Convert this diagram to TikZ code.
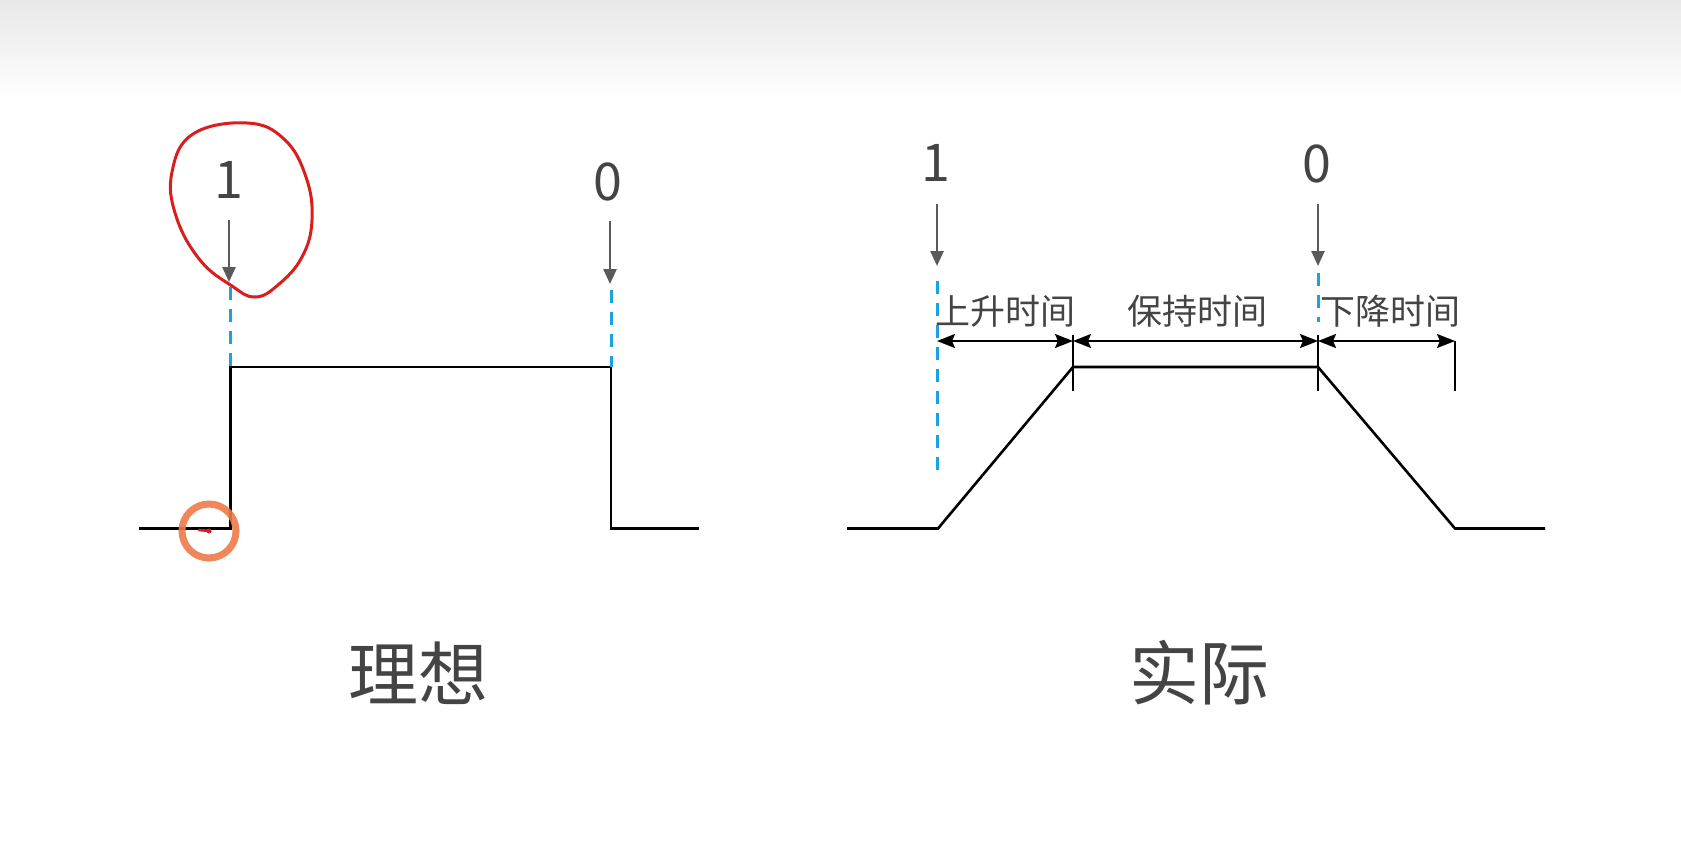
\documentclass[tikz,border=0pt]{standalone}
\usepackage{fontspec}
\setmainfont{Noto Sans CJK SC}
\usetikzlibrary{arrows.meta}
\definecolor{txt}{HTML}{444444}
\definecolor{ptrc}{HTML}{5A5A5A}
\definecolor{bluedash}{HTML}{1BA1E2}
\definecolor{penred}{HTML}{D91E1E}
\definecolor{penorange}{HTML}{EE7A4A}
\begin{document}
\begin{tikzpicture}[x=1pt,y=-1pt,
  sig/.style={line width=2.6pt, black, line join=miter},
  ptr/.style={draw=ptrc, line width=2.5pt, -{Triangle[length=15pt,width=13pt]}},
  bluedashed/.style={draw=bluedash, line width=3pt, dash pattern=on 13pt off 9pt},
  tickline/.style={draw=black, line width=2.2pt},
  dim/.style={draw=black, line width=2.2pt, {Stealth[length=18pt,width=14pt,inset=3pt]}-{Stealth[length=18pt,width=14pt,inset=3pt]}},
  digit/.style={text=txt, font=\fontsize{52}{52}\selectfont, inner sep=0pt},
  lab/.style={text=txt, font=\fontsize{35}{35}\selectfont, inner sep=0pt},
  title/.style={text=txt, font=\fontsize{70}{70}\selectfont, inner sep=0pt}]
\useasboundingbox (0,0) rectangle (1681,860);
\fill[white] (0,0) rectangle (1681,860);
\shade[top color=gray!18, bottom color=white] (0,0) rectangle (1681,100);

% ---------- ideal ----------
\coordinate (a0) at (139,528.5);
\coordinate (a1) at (230.5,528.5);
\coordinate (a2) at (230.5,367);
\coordinate (a3) at (611,367);
\coordinate (a4) at (611,528.5);
\coordinate (a5) at (699,528.5);
\draw[sig] (a0) -- (a1) -- (a2) -- (a3) -- (a4) -- (a5);

\node[digit] (one1) at (229,180) {1};
\node[digit] (zero1) at (608,182) {0};
\coordinate (one1s) at (229,220);
\coordinate (one1e) at (229,282);
\coordinate (zero1s) at (610,221);
\coordinate (zero1e) at (610,284);
\draw[ptr] (one1s) -- (one1e);
\draw[ptr] (zero1s) -- (zero1e);
\coordinate (bd1s) at (230.5,287);
\coordinate (bd2s) at (611,290);
\draw[bluedashed] (bd1s) -- (a2);
\draw[bluedashed] (bd2s) -- (a3);

\node[title] (ideal) at (418,673) {理想};

% annotations (pen marks)
\draw[penred, line width=3pt] plot[smooth cycle, tension=0.7] coordinates
  {(247,123) (284,139) (306,177) (312,220) (302,257) (278,285) (255,297) (232,286) (200,260) (176,216) (172,172) (193,134)};
\node[draw=penorange, draw opacity=0.9, line width=7pt, circle, minimum size=54pt, inner sep=0pt] (mark) at (209,531) {};
\coordinate (markl) at (199,530);
\draw[line width=2.6pt, penred, line cap=round] (markl) -- (mark.center);
\fill[penred] (mark.center) circle (2.5pt);

% ---------- actual ----------
\coordinate (b0) at (847,528.5);
\coordinate (b1) at (938,528.5);
\coordinate (b2) at (1073,367);
\coordinate (b3) at (1318,367);
\coordinate (b4) at (1455,528.5);
\coordinate (b5) at (1545,528.5);
\draw[sig] (b0) -- (b1) -- (b2) -- (b3) -- (b4) -- (b5);

\node[digit] (one2) at (936,163) {1};
\node[digit] (zero2) at (1317,164) {0};
\coordinate (one2s) at (937,204);
\coordinate (one2e) at (937,266);
\coordinate (zero2s) at (1318,204);
\coordinate (zero2e) at (1318,266);
\draw[ptr] (one2s) -- (one2e);
\draw[ptr] (zero2s) -- (zero2e);

\coordinate (bd3s) at (937,281);
\coordinate (bd3e) at (937,474);
\draw[bluedashed] (bd3s) -- (bd3e);
\coordinate (bd4s) at (1318,273);
\coordinate (bd4e) at (1318,322);
\draw[bluedashed] (bd4s) -- (bd4e);

\coordinate (t1s) at (1073,335);
\coordinate (t1e) at (1073,391);
\coordinate (t2s) at (1318,335);
\coordinate (t2e) at (1318,391);
\coordinate (t3s) at (1455,341);
\coordinate (t3e) at (1455,391);
\draw[tickline] (t1s) -- (t1e);
\draw[tickline] (t2s) -- (t2e);
\draw[tickline] (t3s) -- (t3e);

\coordinate (d0) at (937,341);
\coordinate (d1) at (1073,341);
\coordinate (d2) at (1318,341);
\coordinate (d3) at (1455,341);
\draw[dim] (d0) -- (d1);
\draw[dim] (d1) -- (d2);
\draw[dim] (d2) -- (d3);

\node[lab] (rise) at (1005,311) {上升时间};
\node[lab] (hold) at (1197,311) {保持时间};
\node[lab] (fall) at (1390,311) {下降时间};

\node[title] (actual) at (1199,673) {实际};
\end{tikzpicture}
\end{document}
